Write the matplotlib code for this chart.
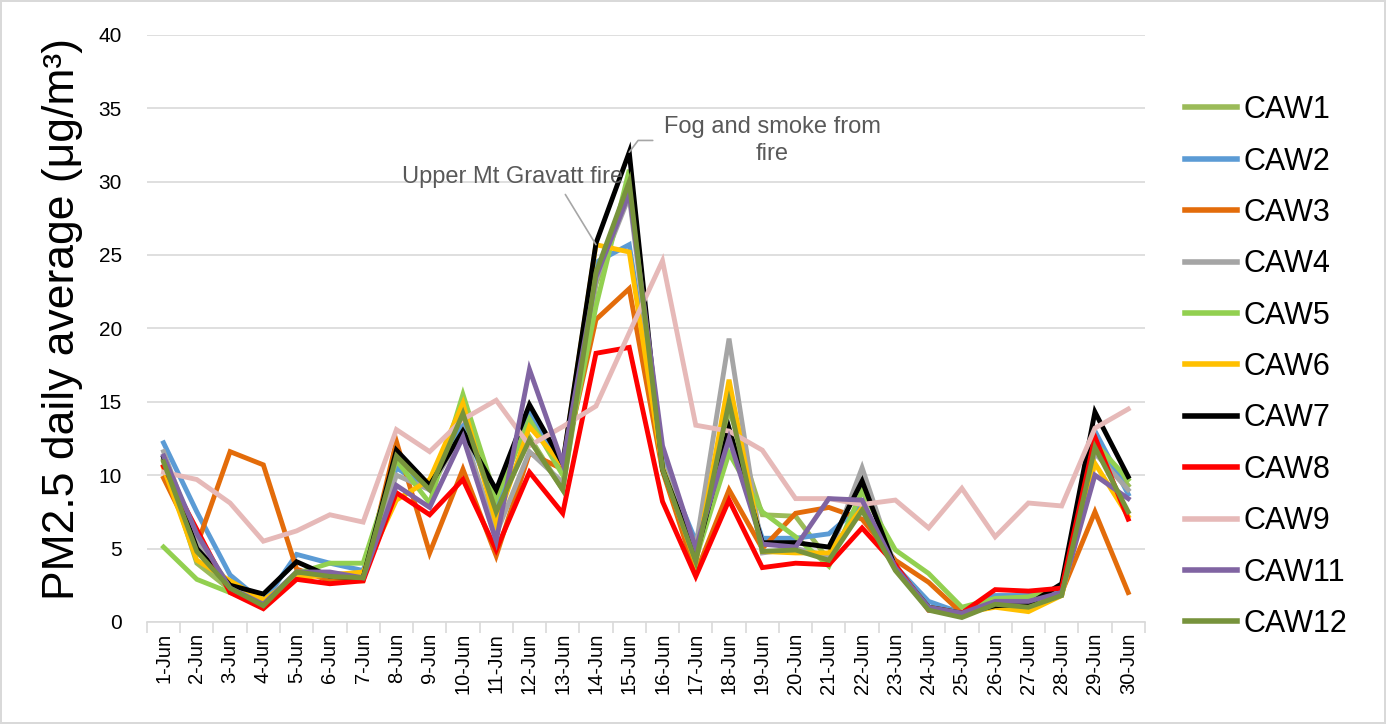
import matplotlib.pyplot as plt

plt.rcParams['font.family'] = ['Liberation Sans', 'DejaVu Sans']

days = ['%d-Jun' % d for d in range(1, 31)]

caw1 = [11.0, 4.0, 2.2, 1.2, 3.3, 3.3, 3.0, 11.0, 9.3, 14.5, 7.5, 12.6, 9.0, 23.0, 29.5,
        10.8, 4.3, 14.5, 7.3, 7.2, 4.2, 8.0, 3.6, 1.0, 0.5, 1.3, 1.5, 2.0, 12.0, 9.3]
caw2 = [12.2, 7.5, 3.2, 1.3, 4.6, 4.0, 3.5, 10.5, 9.0, 13.5, 8.0, 14.2, 10.5, 24.5, 25.7,
        11.0, 5.5, 12.5, 5.7, 5.7, 6.0, 8.0, 3.8, 1.4, 0.6, 1.8, 1.8, 2.0, 13.0, 8.7]
caw3 = [9.8, 5.2, 11.6, 10.7, 3.6, 2.8, 2.8, 12.3, 4.7, 10.4, 4.5, 11.5, 10.4, 20.6, 22.7,
        10.3, 3.3, 9.0, 5.0, 7.4, 7.8, 7.0, 4.2, 2.7, 0.6, 1.2, 1.0, 2.0, 7.5, 2.0]
caw4 = [11.6, 5.5, 2.5, 1.3, 3.4, 3.3, 3.2, 10.0, 9.0, 13.0, 6.0, 11.6, 9.5, 23.3, 29.0,
        10.8, 5.1, 19.3, 4.7, 5.0, 4.5, 10.5, 3.7, 1.0, 0.6, 1.3, 1.3, 1.8, 11.5, 9.0]
caw5 = [5.1, 2.9, 2.0, 1.3, 3.3, 4.0, 4.0, 11.0, 8.1, 15.5, 8.4, 13.8, 10.0, 21.5, 30.8,
        10.5, 4.3, 11.5, 7.5, 5.8, 3.8, 8.9, 4.9, 3.3, 1.0, 1.6, 1.7, 2.4, 12.2, 9.7]
caw6 = [10.5, 4.2, 2.8, 1.5, 3.0, 3.2, 3.4, 8.3, 9.7, 14.9, 6.7, 13.3, 10.7, 25.7, 25.2,
        10.5, 4.0, 16.5, 4.8, 4.7, 4.7, 7.8, 3.7, 1.0, 0.6, 1.0, 0.7, 1.8, 10.8, 7.2]
caw7 = [11.2, 5.0, 2.5, 1.9, 4.1, 3.1, 3.0, 11.7, 9.3, 13.0, 9.0, 14.8, 10.8, 25.8, 32.0,
        10.4, 4.5, 13.2, 5.4, 5.4, 5.1, 9.6, 3.7, 1.0, 0.6, 1.1, 1.2, 2.6, 14.3, 9.9]
caw8 = [10.6, 6.3, 2.0, 0.9, 2.9, 2.6, 2.8, 8.8, 7.3, 9.7, 4.9, 10.2, 7.4, 18.3, 18.7,
        8.2, 3.1, 8.3, 3.7, 4.0, 3.9, 6.4, 3.9, 0.8, 0.6, 2.2, 2.1, 2.3, 12.6, 7.0]
caw9 = [10.2, 9.7, 8.1, 5.5, 6.2, 7.3, 6.8, 13.1, 11.6, 13.8, 15.1, 12.0, 13.3, 14.7, 19.7,
        24.6, 13.4, 13.0, 11.7, 8.4, 8.4, 8.0, 8.3, 6.4, 9.1, 5.8, 8.1, 7.9, 13.2, 14.5]
caw11 = [11.3, 6.0, 2.3, 1.2, 3.4, 3.4, 3.0, 9.3, 7.8, 12.6, 5.5, 17.2, 10.8, 23.5, 29.2,
         12.0, 5.0, 12.5, 5.3, 5.1, 8.4, 8.3, 3.7, 1.0, 0.6, 1.4, 1.4, 2.0, 10.0, 8.4]
caw12 = [10.9, 4.8, 2.3, 1.1, 3.4, 3.1, 3.0, 11.3, 9.0, 14.2, 7.5, 12.4, 9.0, 23.8, 30.0,
         10.4, 4.1, 15.0, 4.8, 4.9, 4.2, 7.6, 3.5, 0.8, 0.3, 1.2, 1.0, 1.8, 11.9, 7.5]

series = [('CAW1', caw1, '#9BBB59'), ('CAW2', caw2, '#5B9BD5'), ('CAW3', caw3, '#E36C0A'),
          ('CAW4', caw4, '#A5A5A5'), ('CAW5', caw5, '#92D050'), ('CAW6', caw6, '#FFC000'),
          ('CAW7', caw7, '#000000'), ('CAW8', caw8, '#FF0000'), ('CAW9', caw9, '#E6B9B8'),
          ('CAW11', caw11, '#8064A2'), ('CAW12', caw12, '#77933C')]

fig = plt.figure(figsize=(13.86, 7.24), dpi=100, edgecolor='#D9D9D9', linewidth=1.5)
ax = fig.add_axes([0.106, 0.141, 0.72, 0.811])

x = list(range(len(days)))
for name, vals, col in series:
    ax.plot(x, vals, color=col, lw=3.5, label=name, solid_joinstyle='miter')

ax.set_xlim(-0.5, 29.5)
ax.set_ylim(0, 40)
ax.set_yticks(range(0, 41, 5))
ax.grid(axis='y', color='#D9D9D9', lw=1.2)
ax.set_axisbelow(True)
for s in ['top', 'right', 'left']:
    ax.spines[s].set_visible(False)
ax.spines['bottom'].set_color('#D9D9D9')
ax.spines['bottom'].set_linewidth(1.2)

ax.set_xticks(x)
ax.set_xticklabels(days, rotation=90, fontsize=14.5)
ax.set_xticks([i - 0.5 for i in range(31)], minor=True)
ax.tick_params(axis='x', which='major', length=0, pad=8)
ax.tick_params(axis='x', which='minor', length=8, color='#D9D9D9', width=1.2)
ax.tick_params(axis='y', length=0, pad=18, labelsize=15)

fig.text(0.045, 0.56, 'PM2.5 daily average (μg/m³)', rotation=90, fontsize=32,
         ha='center', va='center')

ax.annotate('Upper Mt Gravatt fire', xy=(13, 25.7), xytext=(10.5, 30.3),
            ha='center', va='center', fontsize=17, color='#595959',
            arrowprops=dict(arrowstyle='-', color='#A6A6A6', lw=1.2,
                            relpos=(0.72, 0), shrinkA=3, shrinkB=0))
ax.annotate('Fog and smoke from\nfire', xy=(14, 32.0), xytext=(18.3, 32.8),
            ha='center', va='center', fontsize=17, color='#595959', linespacing=1.3,
            arrowprops=dict(arrowstyle='-', color='#A6A6A6', lw=1.2,
                            relpos=(0, 0.5), shrinkA=6, shrinkB=0,
                            connectionstyle='angle,angleA=0,angleB=53,rad=0'))

leg = ax.legend(loc='upper left', bbox_to_anchor=(1.028, 0.918), frameon=False,
                fontsize=22, handlelength=1.7, handletextpad=0.2, labelspacing=0.7,
                borderaxespad=0)
for h in leg.get_lines():
    h.set_linewidth(4)

fig.savefig('out.png', dpi=100)
